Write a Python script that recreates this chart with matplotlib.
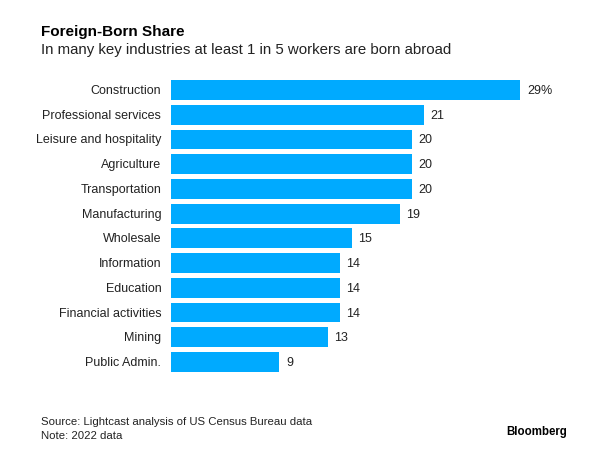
import matplotlib.pyplot as plt

plt.rcParams['font.family'] = ['Liberation Sans', 'DejaVu Sans']

# Foreign-born share of workers by industry (%), 2022
industries = ['Construction', 'Professional services', 'Leisure and hospitality',
              'Agriculture', 'Transportation', 'Manufacturing', 'Wholesale',
              'Information', 'Education', 'Financial activities', 'Mining',
              'Public Admin.']
shares = [29, 21, 20, 20, 20, 19, 15, 14, 14, 14, 13, 9]
value_labels = ['29%', '21', '20', '20', '20', '19', '15', '14', '14', '14', '13', '9']

fig = plt.figure(figsize=(6, 4.6), dpi=100)
ax = fig.add_axes([0.285, 0.184, 0.582, 0.645])

y = list(range(len(industries)))
bars = ax.barh(y, shares, height=0.8, color='#00AAFF')
ax.set_ylim(len(industries) - 0.5, -0.5)
ax.set_xlim(0, 29)

for bar, lab in zip(bars, value_labels):
    ax.text(bar.get_width() + 0.55, bar.get_y() + bar.get_height() / 2, lab,
            va='center', ha='left', fontsize=9, color='#222222')

ax.set_yticks(y)
ax.set_yticklabels(industries, fontsize=9, color='#222222', va='center')
ax.tick_params(axis='y', length=0, pad=7)
ax.set_xticks([])
for s in ax.spines.values():
    s.set_visible(False)

fig.text(0.069, 0.930, 'Foreign-Born Share', fontsize=11, fontweight='bold',
         color='#000000', ha='left', va='center')
fig.text(0.069, 0.891, 'In many key industries at least 1 in 5 workers are born abroad',
         fontsize=10.85, color='#222222', ha='left', va='center')
fig.text(0.069, 0.083, 'Source: Lightcast analysis of US Census Bureau data',
         fontsize=8.2, color='#222222', ha='left', va='center')
fig.text(0.069, 0.052, 'Note: 2022 data', fontsize=8.2, color='#222222',
         ha='left', va='center')
fig.text(0.945, 0.061, 'Bloomberg', fontsize=8.3, fontweight='bold',
         color='#000000', ha='right', va='center')

fig.savefig('out.png', dpi=100)
